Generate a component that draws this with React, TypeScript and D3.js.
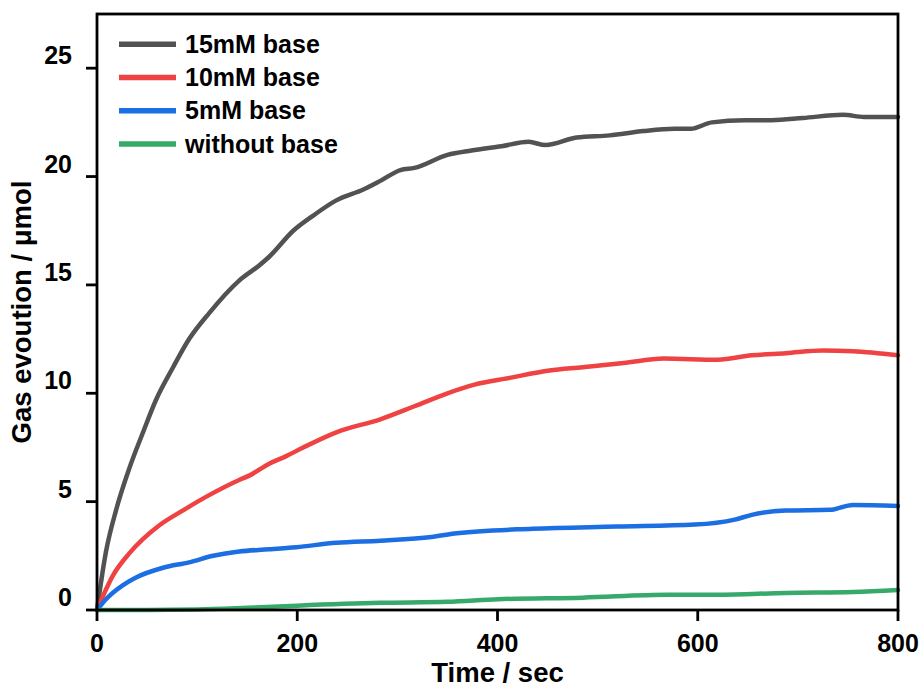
import React from "react";
import * as d3 from "d3";

const xTicks = [0, 200, 400, 600, 800];
const yTicks = [0, 5, 10, 15, 20, 25];

const t15 = [0, 9, 19, 32, 46, 59, 76, 92, 112, 142, 162, 172, 196, 216, 239, 266, 283, 303, 317, 350, 374, 404, 431, 448, 479, 512, 546, 577, 593, 614, 647, 674, 705, 745, 766, 800];
const v15 = [0, 2.7, 4.6, 6.5, 8.2, 9.7, 11.2, 12.5, 13.7, 15.2, 15.9, 16.3, 17.5, 18.2, 18.9, 19.4, 19.8, 20.3, 20.4, 21.0, 21.2, 21.4, 21.6, 21.45, 21.8, 21.9, 22.1, 22.2, 22.2, 22.5, 22.6, 22.6, 22.7, 22.85, 22.75, 22.75];

const t10 = [0, 16, 32, 62, 86, 112, 142, 152, 172, 189, 206, 239, 283, 317, 350, 377, 411, 452, 485, 526, 566, 620, 654, 688, 725, 755, 800];
const v10 = [0, 1.6, 2.6, 3.9, 4.6, 5.3, 6.0, 6.2, 6.75, 7.1, 7.5, 8.2, 8.8, 9.4, 10.0, 10.4, 10.7, 11.05, 11.2, 11.4, 11.6, 11.55, 11.75, 11.85, 11.97, 11.94, 11.75];

const t5 = [0, 9, 26, 39, 66, 92, 116, 142, 172, 199, 239, 283, 334, 357, 435, 519, 597, 637, 654, 688, 732, 755, 800];
const v5 = [0, 0.5, 1.15, 1.5, 1.95, 2.2, 2.5, 2.7, 2.8, 2.9, 3.1, 3.2, 3.37, 3.53, 3.75, 3.85, 3.94, 4.17, 4.39, 4.59, 4.62, 4.85, 4.8];

const t0 = [0, 50, 100, 150, 200, 283, 350, 401, 485, 570, 620, 688, 755, 800];
const v0 = [0, 0.0, 0.02, 0.1, 0.2, 0.33, 0.38, 0.5, 0.57, 0.7, 0.7, 0.79, 0.83, 0.92];

const seriesNames = ["15mM base", "10mM base", "5mM base", "without base"];
const seriesColors = ["#525252", "#ef4242", "#1b6fe3", "#37a96a"];
const seriesT = [t15, t10, t5, t0];
const seriesV = [v15, v10, v5, v0];

const FONT = "'Liberation Sans', Arial, Helvetica, sans-serif";

export default function App() {
  const W = 922, H = 688;
  const x = d3.scaleLinear().domain([0, 800]).range([97, 898]);
  const y = d3.scaleLinear().domain([0, 27.5]).range([610, 14]);
  const line = d3
    .line<[number, number]>()
    .x((d) => x(d[0]))
    .y((d) => y(d[1]))
    .curve(d3.curveMonotoneX);

  const x0 = x(0), x1 = x(800), yb = y(0), yt = y(27.5);

  return (
    <svg
      width={W}
      height={H}
      style={{ position: "absolute", left: 0, top: 0, background: "#fff" }}
      fontFamily={FONT}
    >
      <rect x={0} y={0} width={W} height={H} fill="#fff" />
      {seriesT.map((ts, i) => (
        <path
          key={seriesNames[i]}
          d={line(ts.map((t, j) => [t, seriesV[i][j]]) as [number, number][]) || ""}
          fill="none"
          stroke={seriesColors[i]}
          strokeWidth={4.5}
          strokeLinejoin="round"
          strokeLinecap="round"
        />
      ))}
      <rect x={x0} y={yt} width={x1 - x0} height={yb - yt} fill="none" stroke="#000" strokeWidth={2.8} />
      {yTicks.map((v) => (
        <g key={"y" + v}>
          <line x1={x0 - 11} x2={x0} y1={y(v)} y2={y(v)} stroke="#000" strokeWidth={2.8} />
          <text x={72} y={y(v) - 4} textAnchor="end" fontSize={25} fontWeight="bold" fill="#000">
            {v}
          </text>
        </g>
      ))}
      {xTicks.map((v) => (
        <g key={"x" + v}>
          <line x1={x(v)} x2={x(v)} y1={yb} y2={yb + 11} stroke="#000" strokeWidth={2.8} />
          <text x={x(v)} y={652} textAnchor="middle" fontSize={25} fontWeight="bold" fill="#000">
            {v}
          </text>
        </g>
      ))}
      <text x={(x0 + x1) / 2} y={682} textAnchor="middle" fontSize={27.5} fontWeight="bold" fill="#000">
        Time / sec
      </text>
      <text
        transform={`translate(31, ${(yt + yb) / 2}) rotate(-90)`}
        textAnchor="middle"
        fontSize={27.5}
        fontWeight="bold"
        fill="#000"
      >
        Gas evoution / μmol
      </text>
      {seriesNames.map((n, i) => {
        const ly = 44.3 + i * 33.2;
        return (
          <g key={"lg" + n}>
            <line x1={119} x2={176} y1={ly} y2={ly} stroke={seriesColors[i]} strokeWidth={5.5} />
            <text x={185} y={ly + 8.7} fontSize={25} fontWeight="bold" fill="#000">
              {n}
            </text>
          </g>
        );
      })}
    </svg>
  );
}
